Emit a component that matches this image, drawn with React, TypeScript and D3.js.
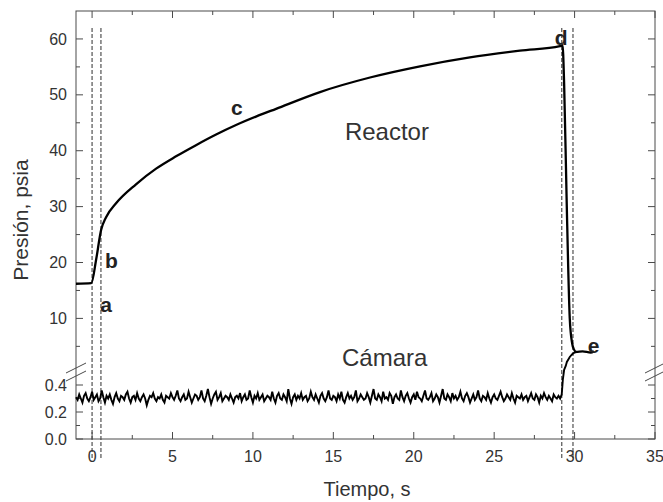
import React from "react";
import * as d3 from "d3";

// ---- data ----
const camaraStart = -1;
const camaraStep = 0.1;
// Cámara pressure trace, hundredths of psia, every 0.1 s from t = -1.0 s to 29.2 s
const camaraHundredths = [
  31, 29, 33, 30, 27, 32, 34, 30, 28, 31, 35, 29, 31, 33, 28, 30, 36, 31, 27, 32,
  30, 33, 29, 26, 31, 34, 30, 28, 32, 31, 29, 33, 35, 30, 27, 31, 32, 29, 34, 30,
  28, 31, 33, 30, 25, 29, 32, 31, 34, 30, 28, 31, 30, 33, 29, 27, 32, 31, 30, 34,
  31, 29, 32, 36, 30, 28, 31, 33, 29, 30, 35, 31, 27, 30, 33, 32, 29, 31, 36, 30,
  28, 32, 37, 31, 26, 30, 33, 35, 29, 31, 34, 28, 30, 32, 31, 29, 33, 30, 27, 31,
  32, 30, 34, 28, 31, 33, 29, 30, 36, 31, 27, 32, 30, 34, 29, 31, 33, 28, 30, 32,
  31, 29, 35, 30, 27, 32, 34, 30, 29, 33, 31, 28, 37, 30, 26, 31, 33, 29, 32, 30,
  34, 29, 31, 32, 28, 30, 35, 31, 29, 33, 30, 27, 32, 34, 30, 28, 31, 36, 30, 29,
  32, 31, 28, 33, 30, 35, 29, 27, 31, 34, 30, 32, 29, 31, 36, 28, 30, 33, 31, 29,
  30, 34, 31, 27, 32, 37, 30, 29, 33, 31, 28, 35, 30, 31, 29, 34, 32, 26, 31, 33,
  30, 29, 36, 31, 28, 32, 34, 30, 27, 31, 33, 29, 35, 31, 30, 28, 32, 36, 30, 29,
  31, 34, 28, 30, 33, 31, 27, 32, 37, 30, 29, 33, 31, 28, 34, 30, 32, 29, 31, 35,
  30, 28, 32, 34, 31, 27, 30, 33, 29, 31, 36, 30, 28, 32, 31, 29, 34, 30, 27, 31,
  33, 30, 29, 32, 35, 31, 28, 30, 33, 31, 29, 34, 30, 27, 32, 31, 30, 33, 29, 31,
  32, 28, 31, 34, 30, 29, 33, 31, 27, 32, 30, 34, 31, 29, 32, 30, 28, 33, 31, 30,
  32, 30, 33,
];
// Cámara rise after the valve opens (psia)
const camaraRiseT = [29.27, 29.35, 29.45, 29.52, 29.7, 29.85, 30.0, 30.2];
const camaraRiseP = [0.44, 0.8, 1.5, 2.2, 3.1, 3.6, 3.9, 4.0];

// Reactor pressure (psia)
const reactorT = [-1, -0.05, 0.25, 0.56, 0.87, 1.49, 2.73, 3.98, 5.22, 6.46, 7.71, 8.95, 10.19, 11.44, 14.17, 17.28, 20.39, 23.49, 26.6, 29.09, 29.25, 29.35, 29.5, 29.7, 29.85, 29.95, 30.1, 30.5, 31.0, 31.2];
const reactorP = [16.2, 16.3, 20.5, 25.8, 28.1, 30.6, 34.0, 36.8, 39.0, 41.0, 42.9, 44.6, 46.1, 47.5, 50.5, 53.1, 55.1, 56.7, 57.9, 58.7, 58.9, 52, 32, 10, 5.5, 4.5, 4.0, 4.1, 3.9, 4.1];

// dashed event markers (s)
const dashedT = [0, 0.55, 29.2, 29.9];

// ticks
const xMajor = [0, 5, 10, 15, 20, 25, 30, 35];
const xMinor = [2.5, 7.5, 12.5, 17.5, 22.5, 27.5, 32.5];
const yUpMajor = [10, 20, 30, 40, 50, 60];
const yUpMinor = [5, 15, 25, 35, 45, 55];
const yLowMajor = [0, 0.2, 0.4];
const yLowMinor = [0.1, 0.3];

// annotations
const annotLetters = ["a", "b", "c", "d", "e"];
const annotT = [0.5, 0.81, 8.64, 28.77, 30.82];
const annotP = [11.1, 19.0, 46.4, 58.9, 3.8];
const seriesNames = ["Reactor", "Cámara"];
const seriesLabelT = [15.72, 15.54];
const seriesLabelP = [41.9, 1.5];

// ---- layout ----
const W = 663;
const H = 502;
const X0 = 76;
const X1 = 655;
const Y0 = 11;
const Y1 = 439;
const YB = 371.5; // break between the two y segments

const FONT = "'Liberation Sans', Arial, Helvetica, sans-serif";
const AX = "#4a4a4a";
const TXT = "#333";

export default function App() {
  const x = d3.scaleLinear().domain([-1, 35]).range([X0, X1]);
  const yUp = d3.scaleLinear().domain([0.5, 65]).range([YB, Y0]);
  const yLow = d3.scaleLinear().domain([0, 0.5]).range([Y1, YB]);
  const yv = (v: number) => (v <= 0.5 ? yLow(v) : yUp(v));

  const line = d3
    .line<[number, number]>()
    .x((d) => x(d[0]))
    .y((d) => yv(d[1]));

  const camaraPts: [number, number][] = camaraHundredths.map((h, i) => [
    camaraStart + i * camaraStep,
    h / 100,
  ]);
  const risePts: [number, number][] = camaraRiseT.map((t, i) => [t, camaraRiseP[i]]);
  const camaraPath = line([...camaraPts, ...risePts]) || "";

  const reactorPts: [number, number][] = reactorT.map((t, i) => [t, reactorP[i]]);
  const reactorPath = line.curve(d3.curveMonotoneX)(reactorPts) || "";

  const MAJ = 7;
  const MIN = 4;

  const breakMarks = (cx: number) =>
    [368, 376].map((cy, i) => (
      <line
        key={`${cx}-${i}`}
        x1={cx - 10}
        y1={cy + 5}
        x2={cx + 10}
        y2={cy - 5}
        stroke={AX}
        strokeWidth={1}
      />
    ));

  return (
    <svg
      width={W}
      height={H}
      style={{ position: "absolute", left: 0, top: 0, background: "#fff" }}
      fontFamily={FONT}
    >
      <rect x={0} y={0} width={W} height={H} fill="#fff" />

      {/* dashed markers */}
      {dashedT.map((t) => (
        <line
          key={`d${t}`}
          x1={x(t)}
          x2={x(t)}
          y1={28}
          y2={460}
          stroke="#6a6a6a"
          strokeWidth={1.4}
          strokeDasharray="4,2"
        />
      ))}

      {/* frame */}
      <rect x={X0} y={Y0} width={X1 - X0} height={Y1 - Y0} fill="none" stroke={AX} strokeWidth={1} />

      {/* x ticks bottom & top */}
      {xMajor.map((t) => (
        <g key={`xm${t}`}>
          <line x1={x(t)} x2={x(t)} y1={Y1} y2={Y1 - MAJ} stroke={AX} />
          <line x1={x(t)} x2={x(t)} y1={Y0} y2={Y0 + MAJ} stroke={AX} />
          <text x={x(t)} y={462} textAnchor="middle" fontSize={16} fill={TXT}>
            {t}
          </text>
        </g>
      ))}
      {xMinor.map((t) => (
        <g key={`xn${t}`}>
          <line x1={x(t)} x2={x(t)} y1={Y1} y2={Y1 - MIN} stroke={AX} />
          <line x1={x(t)} x2={x(t)} y1={Y0} y2={Y0 + MIN} stroke={AX} />
        </g>
      ))}

      {/* y ticks upper segment */}
      {yUpMajor.map((v) => (
        <g key={`yu${v}`}>
          <line x1={X0} x2={X0 + MAJ} y1={yUp(v)} y2={yUp(v)} stroke={AX} />
          <line x1={X1} x2={X1 - MAJ} y1={yUp(v)} y2={yUp(v)} stroke={AX} />
          <text x={67} y={yUp(v)} dy="0.35em" textAnchor="end" fontSize={16} fill={TXT}>
            {v}
          </text>
        </g>
      ))}
      {yUpMinor.map((v) => (
        <g key={`yun${v}`}>
          <line x1={X0} x2={X0 + MIN} y1={yUp(v)} y2={yUp(v)} stroke={AX} />
          <line x1={X1} x2={X1 - MIN} y1={yUp(v)} y2={yUp(v)} stroke={AX} />
        </g>
      ))}
      {/* y ticks lower segment */}
      {yLowMajor.map((v) => (
        <g key={`yl${v}`}>
          <line x1={X0} x2={X0 + MAJ} y1={yLow(v)} y2={yLow(v)} stroke={AX} />
          <line x1={X1} x2={X1 - MAJ} y1={yLow(v)} y2={yLow(v)} stroke={AX} />
          <text x={67} y={yLow(v)} dy="0.35em" textAnchor="end" fontSize={16} fill={TXT}>
            {v.toFixed(1)}
          </text>
        </g>
      ))}
      {yLowMinor.map((v) => (
        <g key={`yln${v}`}>
          <line x1={X0} x2={X0 + MIN} y1={yLow(v)} y2={yLow(v)} stroke={AX} />
          <line x1={X1} x2={X1 - MIN} y1={yLow(v)} y2={yLow(v)} stroke={AX} />
        </g>
      ))}

      {/* axis break marks */}
      {breakMarks(X0)}
      {breakMarks(X1)}

      {/* series */}
      <path d={camaraPath} fill="none" stroke="#000" strokeWidth={1.9} strokeLinejoin="miter" />
      <path d={reactorPath} fill="none" stroke="#000" strokeWidth={2.3} />

      {/* annotations */}
      {annotLetters.map((s, i) => (
        <text
          key={s}
          x={x(annotT[i])}
          y={yv(annotP[i])}
          fontSize={21}
          fontWeight="bold"
          fill="#222"
        >
          {s}
        </text>
      ))}
      {seriesNames.map((s, i) => (
        <text key={s} x={x(seriesLabelT[i])} y={yv(seriesLabelP[i])} fontSize={24} fill={TXT}>
          {s}
        </text>
      ))}

      {/* axis titles */}
      <text x={367} y={496} textAnchor="middle" fontSize={20} fill={TXT}>
        Tiempo, s
      </text>
      <text
        transform={`translate(28,220) rotate(-90)`}
        textAnchor="middle"
        fontSize={21}
        fill={TXT}
      >
        Presión, psia
      </text>
    </svg>
  );
}
